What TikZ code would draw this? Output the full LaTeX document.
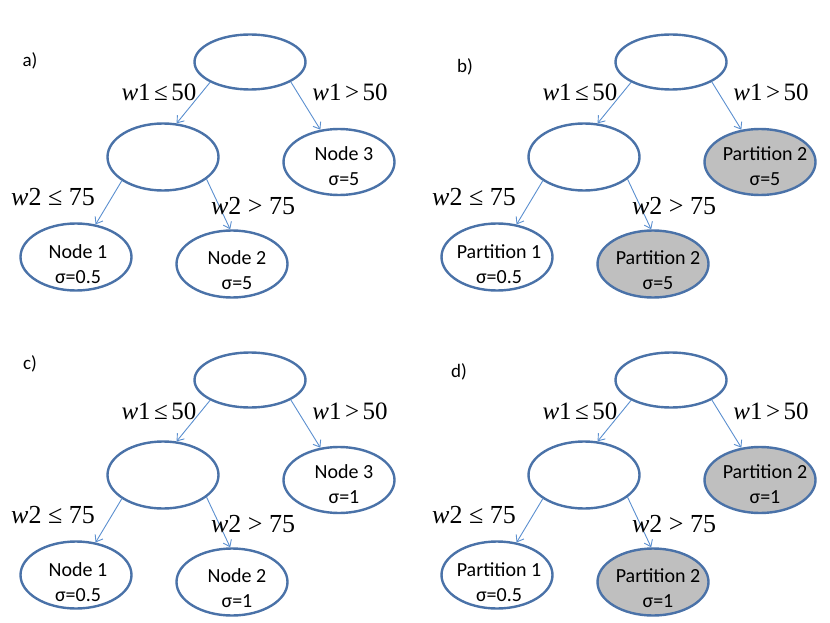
\documentclass[tikz,border=0pt]{standalone}
\usepackage{fontspec}
\setmainfont{Liberation Serif}
\newfontfamily\carlito{Carlito}
\usetikzlibrary{shapes.geometric,arrows.meta}
\definecolor{ellblue}{HTML}{4A72A8}
\definecolor{arrblue}{HTML}{5B8FCF}
\definecolor{partgray}{HTML}{BFBFBF}
\tikzset{
  ell/.style={ellipse, draw=ellblue, line width=2.4pt, minimum width=111pt, minimum height=67pt, inner sep=0pt},
  grayell/.style={ell, fill=partgray},
  plainell/.style={ell, fill=white},
  txt/.style={align=center, font=\carlito\fontsize{20}{25}\selectfont, inner sep=0pt},
  condA/.style={font=\fontsize{25}{28}\selectfont, inner sep=0pt, anchor=base},
  condB/.style={font=\fontsize{26}{28}\selectfont, inner sep=0pt, anchor=base},
  plab/.style={font=\carlito\fontsize{19}{22}\selectfont, inner sep=0pt},
  conn/.style={draw=arrblue, line width=0.9pt, -{Straight Barb[length=6pt,width=9pt,line width=0.9pt]}}
}
\newcommand\mytree[9]{%
\begin{scope}[shift={(#2,#3)}]
  \node[ell, minimum height=55pt] (#1r) at (250,62) {};
  \node[ell] (#1m) at (163,157) {};
  \node[#9, minimum height=66pt] (#1c) at (339,162) {};
  \node[#7] (#1a) at (76,257) {};
  \node[#8] (#1b) at (232,264) {};
  \node[txt] (#1ta) at ([xshift=2pt,yshift=-7pt]#1a.center) {#4};
  \node[txt] (#1tb) at ([xshift=5pt,yshift=-6pt]#1b.center) {#5};
  \node[txt] (#1tc) at ([xshift=5pt,yshift=-4pt]#1c.center) {#6};
  \draw[conn] (#1r.207) -- (#1m.68);
  \draw[conn] (#1r.334) -- (#1c.120);
  \draw[conn] (#1m.210) -- (#1a.59);
  \draw[conn] (#1m.333) -- (#1b.93);
  \node[condA] (#1l1) at (159,101) {\textit{w}1\hspace{3.5pt}≤\hspace{3.5pt}50};
  \node[condA] (#1l2) at (350,101) {\textit{w}1\hspace{3.5pt}>\hspace{3.5pt}50};
  \node[condB] (#1l3) at (53,205) {\textit{w}2 ≤ 75};
  \node[condB] (#1l4) at (253,214) {\textit{w}2 > 75};
\end{scope}}
\begin{document}
\begin{tikzpicture}[x=1pt,y=-1pt]
\useasboundingbox (0,0) rectangle (830,623);
\mytree{A}{0}{0}{Node 1\\σ=0.5}{Node 2\\σ=5}{Node 3\\σ=5}{plainell}{plainell}{plainell}
\mytree{B}{421}{0}{Partition 1\\σ=0.5}{Partition 2\\σ=5}{Partition 2\\σ=5}{plainell}{grayell}{grayell}
\mytree{C}{0}{318}{Node 1\\σ=0.5}{Node 2\\σ=1}{Node 3\\σ=1}{plainell}{plainell}{plainell}
\mytree{D}{421}{318}{Partition 1\\σ=0.5}{Partition 2\\σ=1}{Partition 2\\σ=1}{plainell}{grayell}{grayell}
\node[plab] (la) at (30,61) {a)};
\node[plab] (lb) at (465,67) {b)};
\node[plab] (lc) at (30,364) {c)};
\node[plab] (ld) at (459,372) {d)};
\end{tikzpicture}
\end{document}
